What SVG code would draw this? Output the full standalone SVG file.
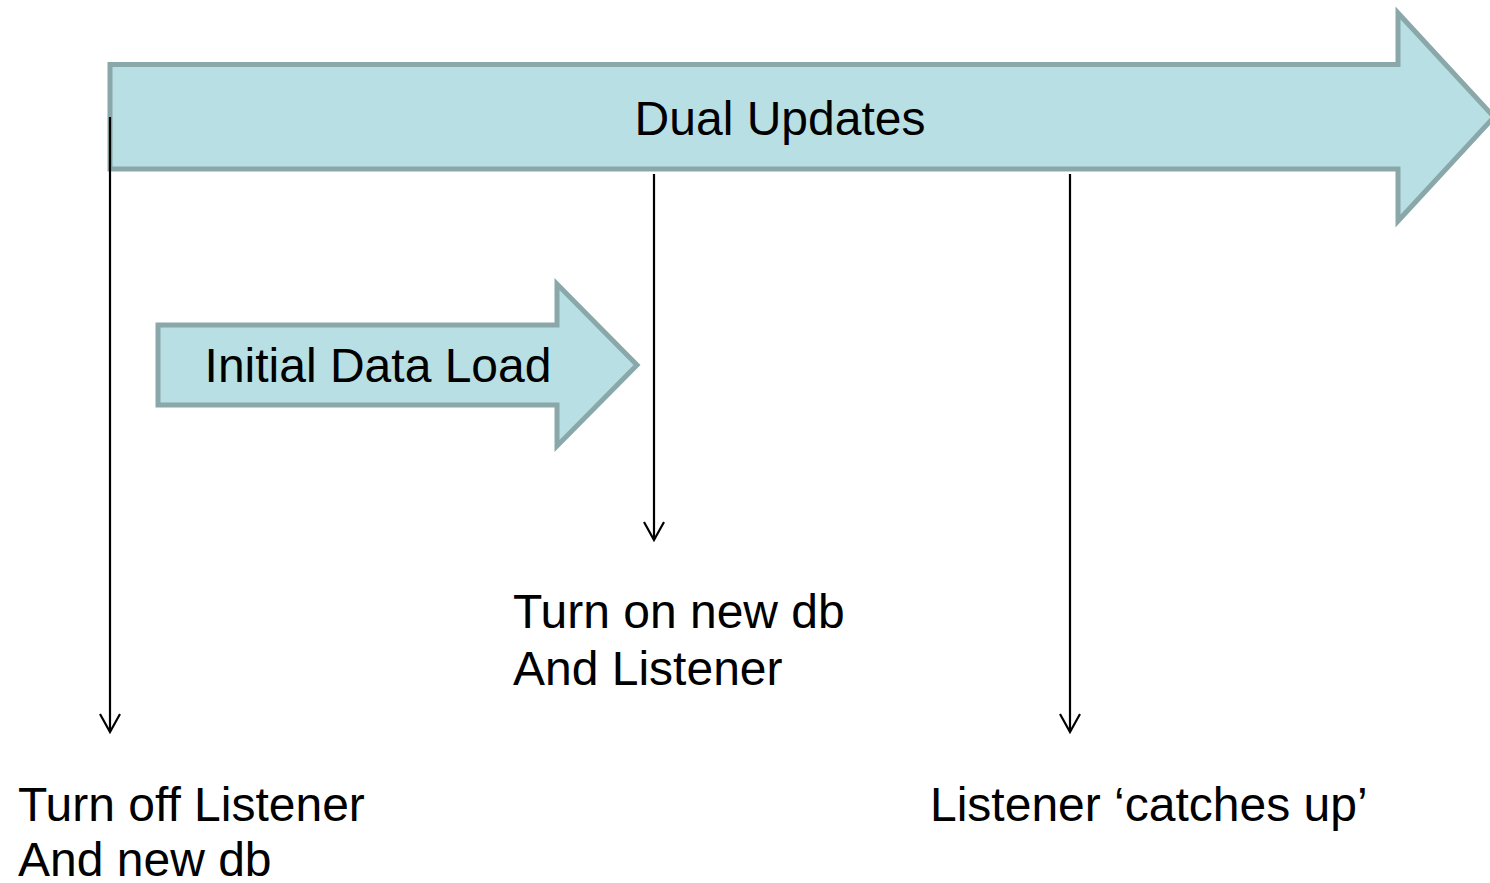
<svg xmlns="http://www.w3.org/2000/svg" width="1490" height="883" viewBox="0 0 1490 883">
  <defs>
    <style>
      .band { fill: #b8dfe3; stroke: #8aa8aa; stroke-width: 5; stroke-linejoin: miter; }
      .label { font-family: "Liberation Sans", Arial, sans-serif; font-size: 48px; fill: #000; }
      .mid { text-anchor: middle; }
      .tick { stroke: #000; stroke-width: 2.2; fill: none; }
    </style>
    <!-- open V head, drawn pointing along +x so orient="auto" follows the line -->
    <marker id="vhead" markerUnits="userSpaceOnUse" markerWidth="22" markerHeight="24" refX="20" refY="12" orient="auto" viewBox="0 0 22 24">
      <path d="M2,2 L20,12 L2,22" fill="none" stroke="#000" stroke-width="2.2"/>
    </marker>
  </defs>

  <rect width="1490" height="883" fill="#ffffff"/>

  <!-- long phase arrow -->
  <g id="dual-updates">
    <path class="band" d="M110,64.5 L1398,64.5 L1398,13 L1494,117 L1398,221 L1398,169 L110,169 Z"/>
    <text class="label mid" x="780" y="135">Dual Updates</text>
  </g>

  <!-- short phase arrow -->
  <g id="initial-data-load">
    <path class="band" d="M158,325 L557,325 L557,284 L637,365 L557,446 L557,405 L158,405 Z"/>
    <text class="label mid" x="378" y="382">Initial Data Load</text>
  </g>

  <!-- milestone drop lines -->
  <g id="connectors">
    <line class="tick" x1="110" y1="117" x2="110" y2="732" marker-end="url(#vhead)"/>
    <line class="tick" x1="654" y1="174" x2="654" y2="540" marker-end="url(#vhead)"/>
    <line class="tick" x1="1070" y1="174" x2="1070" y2="732" marker-end="url(#vhead)"/>
  </g>

  <g id="turn-on">
    <text class="label" x="513" y="628">Turn on new db</text>
    <text class="label" x="513" y="685">And Listener</text>
  </g>

  <g id="turn-off">
    <text class="label" x="18" y="821">Turn off Listener</text>
    <text class="label" x="18" y="876">And new db</text>
  </g>

  <g id="catch-up">
    <text class="label" x="930" y="821">Listener ‘catches up’</text>
  </g>
</svg>
